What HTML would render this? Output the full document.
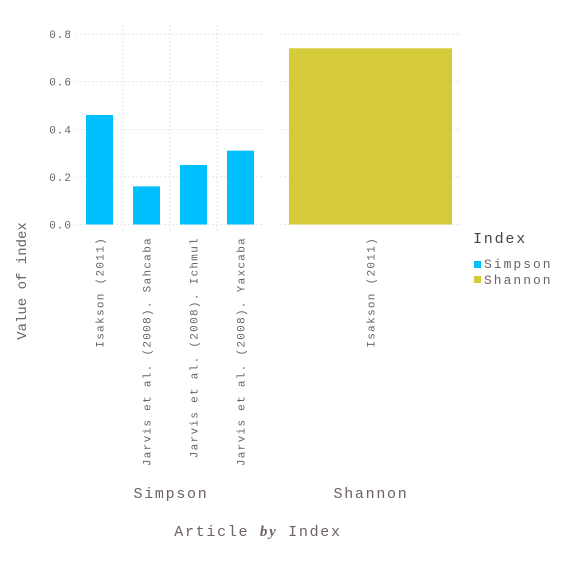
<!DOCTYPE html>
<html><head><meta charset="utf-8"><style>
body{margin:0;background:#fff;}
svg text{font-family:"Liberation Mono",monospace;}
</style></head><body>
<svg width="567" height="567" viewBox="0 0 567 567">
<g id="grid"></g>
<g id="bars"></g>
<g id="labels"></g>
<text x="26" y="281" transform="rotate(-90 26 281)" text-anchor="middle" font-size="14" fill="#6c606b">Value of index</text>
<text x="171" y="498" text-anchor="middle" font-size="15" letter-spacing="1.7" fill="#6c606b">Simpson</text>
<text x="371" y="498" text-anchor="middle" font-size="15" letter-spacing="1.7" fill="#6c606b">Shannon</text>
<text x="258" y="536" text-anchor="middle" font-size="15" letter-spacing="1.7" fill="#6c606b">Article <tspan font-family="Liberation Serif,serif" font-style="italic" font-weight="bold">by</tspan> Index</text>
<text x="473" y="243" font-size="15" letter-spacing="1.8" fill="#4c404b">Index</text>
<rect x="474" y="261" width="7" height="7" fill="#00bfff"/>
<text x="484" y="268" font-size="13" letter-spacing="2" fill="#6c606b">Simpson</text>
<rect x="474" y="276" width="7" height="7" fill="#d4ca3a"/>
<text x="484" y="284" font-size="13" letter-spacing="2" fill="#6c606b">Shannon</text>
</svg>
<script>
const simpsonCats=["Isakson (2011)","Jarvis et al. (2008). Sahcaba","Jarvis et al. (2008). Ichmul","Jarvis et al. (2008). Yaxcaba"];
const simpsonVals=[0.46,0.16,0.25,0.31];
const shannonCats=["Isakson (2011)"];
const shannonVals=[0.74];
const yTicks=[0,0.2,0.4,0.6,0.8];
const yTickLabels=["0.0","0.2","0.4","0.6","0.8"];
const NS="http://www.w3.org/2000/svg";
const y0=224.5,yTop=34;
function y(v){return y0-(v/0.8)*(y0-yTop);}
const grid=document.getElementById('grid'),bars=document.getElementById('bars'),labels=document.getElementById('labels');
function mk(tag,attrs,parent){const e=document.createElementNS(NS,tag);for(const k in attrs)e.setAttribute(k,attrs[k]);parent.appendChild(e);return e;}
const panels=[{x0:76,x1:264,cats:simpsonCats,vals:simpsonVals,color:"#00bfff",pad:10},{x0:280,x1:461,cats:shannonCats,vals:shannonVals,color:"#d4ca3a",pad:9}];
yTicks.forEach((t,i)=>{
  const tl=mk('text',{x:72,y:y(t)+4,'text-anchor':'end','font-size':11,'letter-spacing':1,fill:'#6c606b'},labels);
  tl.textContent=yTickLabels[i];
  
  
  panels.forEach(p=>{
    const l=mk('line',{x1:p.x0,x2:p.x1,y1:y(t),y2:y(t),stroke:'#d0d0e0','stroke-width':0.6,'stroke-dasharray':'2,2'},grid);
    
    
  });
});
panels.forEach((p,pi)=>{
  const bw=(p.x1-p.x0)/p.cats.length;
  for(let i=1;i<p.cats.length;i++){
    const l=mk('line',{x1:p.x0+bw*i,x2:p.x0+bw*i,y1:25,y2:232,stroke:'#d0d0e0','stroke-width':0.6,'stroke-dasharray':'2,2'},grid);
    
    
  }
  p.vals.forEach((v,i)=>{
    const bx=p.x0+bw*i+p.pad;
    const r=mk('rect',{x:bx,y:y(v),width:bw-2*p.pad,height:y0-y(v),fill:p.color},bars);
    
    
    const cx=p.x0+bw*(i+0.5)+4;
    const t=mk('text',{x:cx,y:237,transform:`rotate(-90 ${cx} 237)`,'text-anchor':'end','font-size':11,'letter-spacing':1.3,fill:'#6c606b'},labels);
    t.textContent=p.cats[i];
    
    
  });
});
</script>
</body></html>
